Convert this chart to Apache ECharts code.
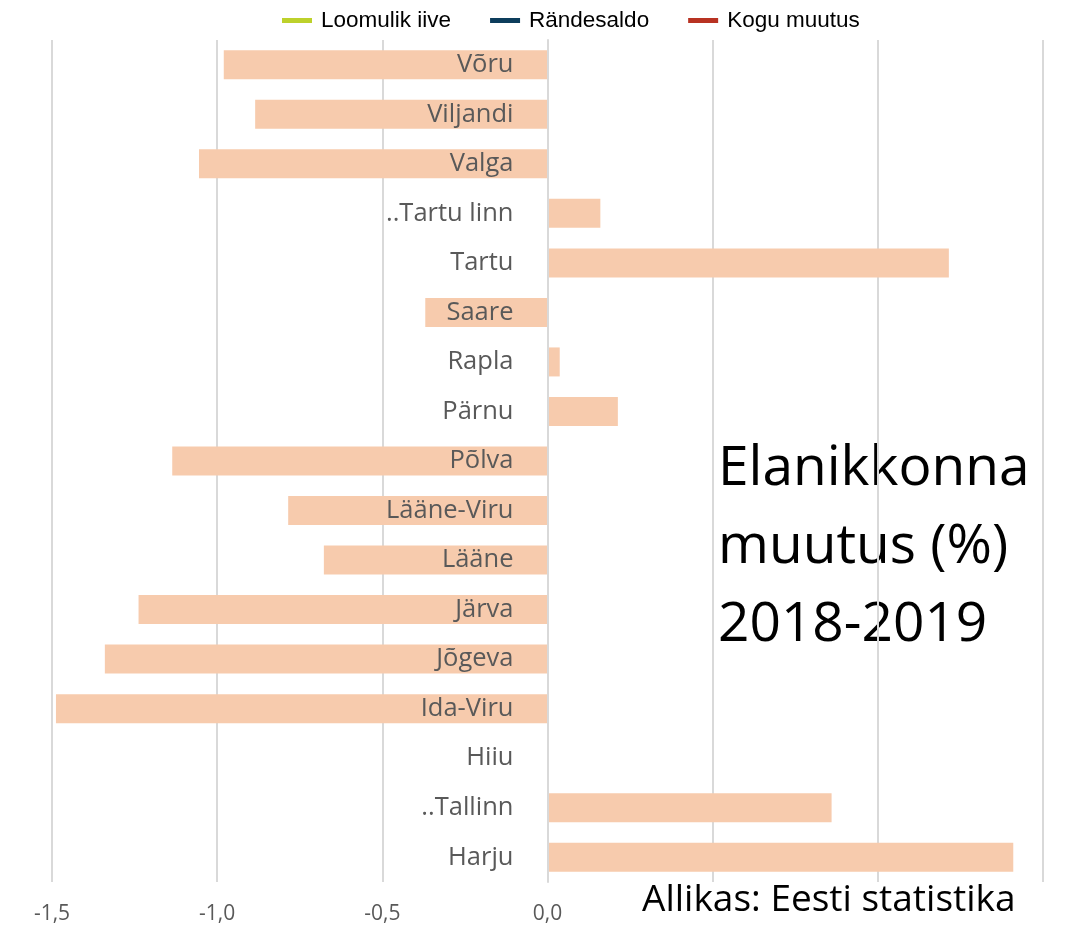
<!DOCTYPE html>
<html style="height: 100%">
<head>
    <meta charset="utf-8">
    <script src="https://cdn.jsdelivr.net/npm/echarts@6/dist/echarts.min.js"></script>
</head>
<body style="height: 100%; margin: 0">
<div id="container" style="width: 1068px; height: 926px"></div>

<script type="text/javascript">
    // maakonnad ülevalt alla
    var maakonnad = ['Võru', 'Viljandi', 'Valga', '..Tartu linn', 'Tartu', 'Saare', 'Rapla', 'Pärnu',
        'Põlva', 'Lääne-Viru', 'Lääne', 'Järva', 'Jõgeva', 'Ida-Viru', 'Hiiu', '..Tallinn', 'Harju'];
    // elanikkonna muutus, %
    var muutus = [-0.98, -0.885, -1.055, 0.16, 1.215, -0.37, 0.037, 0.213,
        -1.136, -0.785, -0.677, -1.238, -1.34, -1.488, 0, 0.86, 1.41];
    var legendNames = ['Loomulik iive', 'Rändesaldo', 'Kogu muutus'];
    var legendColors = ['#bdd12b', '#0d3d5c', '#b83222'];
    var xTicks = [-1.5, -1.0, -0.5, 0.0];

    var dom = document.getElementById("container");
    var myChart = echarts.init(dom);
    var option = null;

    var gridLeft = 52, gridRight = 25;
    // y-telg nullpunkti kohale
    var zeroOffset = -((1068 - gridLeft - gridRight) / 2);

    var lineSeries = legendNames.map(function (n, i) {
        return { name: n, type: 'line', data: [], color: legendColors[i] };
    });

    myChart.setOption(option = {
        animation: false,
        legend: {
            top: 4,
            left: 277,
            itemWidth: 30,
            itemHeight: 5,
            itemGap: 39,
            icon: 'rect',
            data: legendNames,
            textStyle: { fontFamily: 'Liberation Sans', fontSize: 22.5, color: '#000', padding: [0, 0, 0, 4] }
        },
        grid: { left: gridLeft, right: gridRight, top: 40, bottom: 44, containLabel: false, outerBoundsMode: 'none' },
        xAxis: {
            type: 'value',
            min: -1.5,
            max: 1.5,
            interval: 0.5,
            axisLine: { show: false },
            axisTick: { show: false },
            splitLine: { lineStyle: { color: '#d9d9d9', width: 2 } },
            axisLabel: {
                margin: 22,
                fontFamily: 'Open Sans',
                fontSize: 21,
                color: '#595959',
                formatter: function (v) {
                    return xTicks.indexOf(v) >= 0 ? v.toFixed(1).replace('.', ',') : '';
                }
            }
        },
        yAxis: {
            type: 'category',
            inverse: true,
            data: maakonnad,
            z: 5,
            offset: zeroOffset,
            axisLine: { onZero: false, lineStyle: { color: '#d9d9d9', width: 2 } },
            axisTick: { show: false },
            axisLabel: { margin: 34, fontFamily: 'Open Sans', fontSize: 25.5, color: '#595959' }
        },
        series: lineSeries.concat([{
            name: 'muutus',
            type: 'bar',
            data: muutus,
            barWidth: 29,
            itemStyle: { color: '#f7cbad' }
        }]),
        graphic: [
            {
                type: 'text', left: 718, top: 430,
                style: { text: 'Elanikkonna\nmuutus (%)\n2018-2019', fontFamily: 'Open Sans', fontSize: 55, lineHeight: 78, fill: '#000' }
            },
            {
                type: 'text', left: 642, top: 882,
                style: { text: 'Allikas: Eesti statistika', fontFamily: 'Open Sans', fontSize: 37, fill: '#000' }
            }
        ]
    });
</script>
</body>
</html>
